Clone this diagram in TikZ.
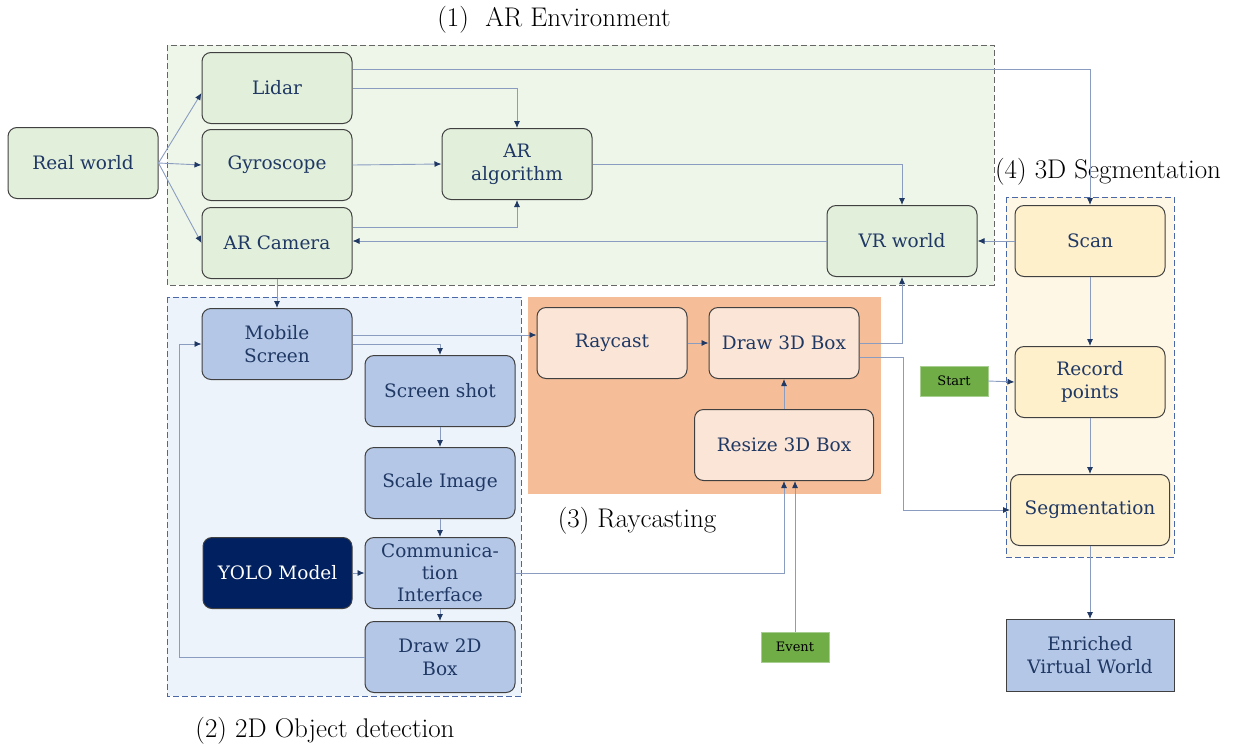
\documentclass[tikz,border=0pt]{standalone}
\usepackage{xcolor}
\usepackage{fontspec}
\usepackage{tikz}
\usetikzlibrary{arrows.meta, positioning}

\newfontfamily\boxfont{DejaVu Serif}

\definecolor{navy}{HTML}{1F3864}
\definecolor{linkblue}{HTML}{8A9DC0}
\definecolor{edgegray}{HTML}{404040}
\definecolor{envgreen}{HTML}{EEF6EA}
\definecolor{boxgreen}{HTML}{E2EFDA}
\definecolor{detblue}{HTML}{EDF3FB}
\definecolor{boxblue}{HTML}{B4C7E7}
\definecolor{dashblue}{HTML}{4A68A8}
\definecolor{raypeach}{HTML}{F5BE98}
\definecolor{boxpeach}{HTML}{FBE5D6}
\definecolor{segyellow}{HTML}{FEF7E6}
\definecolor{boxyellow}{HTML}{FFF0CC}
\definecolor{trigreen}{HTML}{70AD47}
\definecolor{yolonavy}{HTML}{002060}

\tikzstyle{arrow} = [draw=linkblue, line width=0.9pt, -{Latex[length=7pt,width=6pt,color=navy]}]
\tikzstyle{box} = [rectangle, rounded corners=9pt, draw=edgegray, line width=1pt, minimum width=150pt, minimum height=71pt, align=center, text=navy, font=\boxfont\fontsize{18.5}{23}\selectfont]
\tikzstyle{greenbox} = [box, fill=boxgreen]
\tikzstyle{bluebox} = [box, fill=boxblue]
\tikzstyle{peachbox} = [box, fill=boxpeach]
\tikzstyle{yellowbox} = [box, fill=boxyellow]
\tikzstyle{trigger} = [rectangle, fill=trigreen, draw=trigreen!60!white, minimum width=68pt, minimum height=30pt, font=\boxfont\fontsize{13}{15}\selectfont]
\tikzstyle{grouptitle} = [font=\fontsize{27}{29}\selectfont]

\begin{document}
\begin{tikzpicture}[x=1pt, y=-1pt, node distance=20pt]
  \useasboundingbox (0,0) rectangle (1242,745);

  % Group backgrounds
  \draw[draw=edgegray!80, fill=envgreen, line width=1pt, dash pattern=on 6pt off 3pt] (167,45) rectangle (994,285);
  \draw[draw=dashblue, fill=detblue, line width=1pt, dash pattern=on 6pt off 3pt] (167,297) rectangle (521,696);
  \fill[raypeach] (528,297) rectangle (881,494);
  \draw[draw=dashblue, fill=segyellow, line width=1pt, dash pattern=on 6pt off 3pt] (1006,197) rectangle (1174,557);

  % Group titles
  \node (envtitle) [grouptitle] at (554,20) {(1)\ \ AR Environment};
  \node (dettitle) [grouptitle] at (325,731) {(2) 2D Object detection};
  \node (raytitle) [grouptitle] at (637,521) {(3) Raycasting};
  \node (segtitle) [grouptitle] at (1108,172) {(4) 3D Segmentation};

  % Nodes
  \node (realworld) [greenbox] at (83,163) {Real world};
  \node (lidar) [greenbox] at (277,88) {Lidar};
  \node (gyro) [greenbox, below=5pt of lidar] {Gyroscope};
  \node (arcamera) [greenbox, below=6pt of gyro] {AR Camera};
  \node (aralgo) [greenbox] at (517,164) {AR\\algorithm};
  \node (vrworld) [greenbox] at (902,241) {VR world};

  \node (mobile) [bluebox, below=29pt of arcamera] {Mobile\\Screen};
  \node (shot) [bluebox] at (440,391) {Screen shot};
  \node (scale) [bluebox, below=20pt of shot] {Scale Image};
  \node (comm) [bluebox, below=18pt of scale, font=\boxfont\fontsize{18.5}{22}\selectfont] {Communica-\\tion\\Interface};
  \node (yolo) [box, fill=yolonavy, text=white, minimum width=149pt, left=12pt of comm] {YOLO Model};
  \node (draw2d) [bluebox, below=12pt of comm] {Draw 2D\\Box};

  \node (raycast) [peachbox] at (612,343) {Raycast};
  \node (draw3d) [peachbox, right=21pt of raycast] {Draw 3D Box};
  \node (resize) [peachbox, minimum width=179pt, below=30pt of draw3d] {Resize 3D Box};
  \node (event) [trigger] at (795,647) {Event};

  \node (scan) [yellowbox] at (1090,241) {Scan};
  \node (record) [yellowbox, below=69pt of scan] {Record\\points};
  \node (seg) [yellowbox, minimum width=159pt, below=56pt of record] {Segmentation};
  \node (start) [trigger] at (954,381) {Start};
  \node (enriched) [bluebox, rounded corners=0pt, minimum width=168pt, minimum height=72pt, below=73pt of seg] {Enriched\\Virtual World};

  % Arrows in the AR environment
  \draw[arrow] (realworld.east) -- ([yshift=-5pt]lidar.west);
  \draw[arrow] (realworld.east) -- (gyro.west);
  \draw[arrow] (realworld.east) -- (arcamera.west);
  \draw[arrow] (lidar.east) -| (aralgo.north);
  \draw[arrow] ([yshift=19pt]lidar.east) -| (scan.north);
  \draw[arrow] (gyro.east) -- (aralgo.west);
  \draw[arrow] ([yshift=16pt]arcamera.east) -| (aralgo.south);
  \draw[arrow] (vrworld.west) -- (vrworld.west -| arcamera.east);
  \draw[arrow] (aralgo.east) -| (vrworld.north);
  \draw[arrow] (scan.west) -- (vrworld.east);

  % Arrows in the detection loop
  \draw[arrow] (arcamera.south) -- (mobile.north);
  \draw[arrow] ([yshift=9pt]mobile.east) -- ([yshift=9pt]mobile.east -| raycast.west);
  \draw[arrow] (mobile.east) -| (shot.north);
  \draw[arrow] (shot.south) -- (scale.north);
  \draw[arrow] (scale.south) -- (comm.north);
  \draw[arrow] (yolo.east) -- (comm.west);
  \draw[arrow] (comm.south) -- (draw2d.north);
  \draw[arrow] (draw2d.west) -- ++(-185,0) |- (mobile.west);

  % Arrows in raycasting
  \draw[arrow] (comm.east) -| (resize.south);
  \draw[arrow] (event.north) -- (event.north |- resize.south);
  \draw[arrow] (raycast.east) -- (draw3d.west);
  \draw[arrow] (resize.north) -- (draw3d.south);
  \draw[arrow] (draw3d.east) -| (vrworld.south);
  \draw[arrow] ([yshift=-14pt]draw3d.east) -- ++(44,0) |- (seg.west);

  % Arrows in segmentation
  \draw[arrow] (scan.south) -- (record.north);
  \draw[arrow] (start.east) -- (record.west);
  \draw[arrow] (record.south) -- (seg.north);
  \draw[arrow] (seg.south) -- (enriched.north);

\end{tikzpicture}
\end{document}
